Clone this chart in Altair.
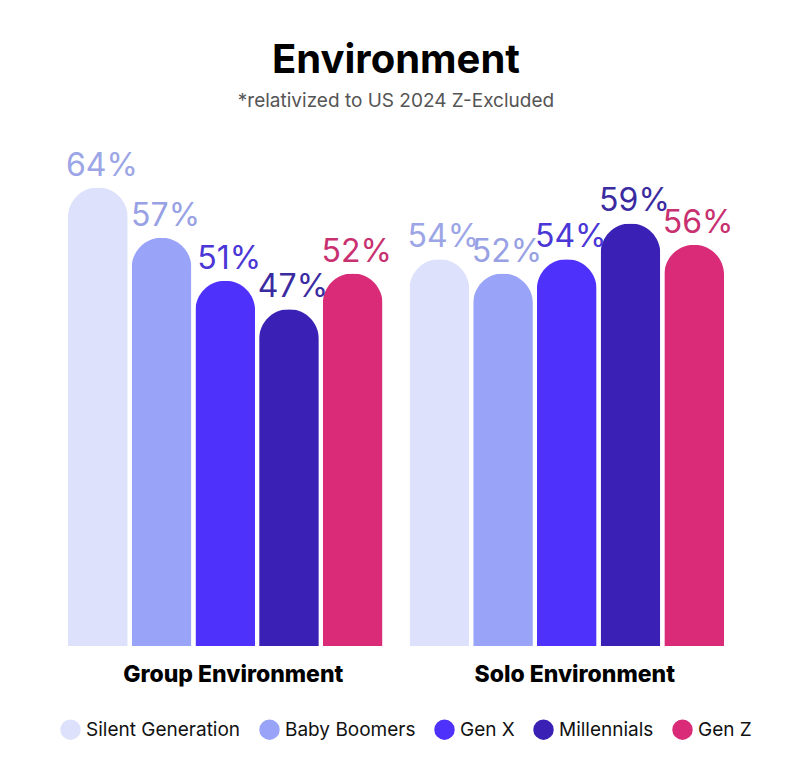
import altair as alt
import pandas as pd

groups = ["Group Environment", "Solo Environment"]
generations = ["Silent Generation", "Baby Boomers", "Gen X", "Millennials", "Gen Z"]
group_values = [64, 57, 51, 47, 52]
solo_values = [54, 52, 54, 59, 56]

bar_colors = ["#dde1fb", "#99a4f8", "#4e31fb", "#3a20b4", "#d92b77"]
label_colors = ["#9ca5e6", "#98a1e4", "#4a37d6", "#3b2ba0", "#c8306f"]

rows = []
for g, vals in zip(groups, [group_values, solo_values]):
    for gen, v in zip(generations, vals):
        rows.append({"group": g, "generation": gen, "value": v, "label": f"{v}%"})
df = pd.DataFrame(rows)

FONT = "Inter"

x_enc = alt.X(
    "group:N",
    sort=groups,
    scale=alt.Scale(paddingInner=0.079, paddingOuter=0),
    axis=alt.Axis(
        title=None,
        labelAngle=0,
        labelFontSize=23,
        labelFontWeight=800,
        labelColor="#000000",
        labelFont=FONT,
        labelLimit=500,
        labelOffset=8,
        ticks=False,
        domain=False,
        grid=False,
        labelPadding=17,
    ),
)
xoff_enc = alt.XOffset(
    "generation:N",
    sort=generations,
    scale=alt.Scale(paddingInner=0.063, paddingOuter=0),
)
y_enc = alt.Y("value:Q", scale=alt.Scale(domain=[0, 70.5], nice=False, zero=True), axis=None)

bars = alt.Chart(df).mark_bar(
    cornerRadiusTopLeft=30, cornerRadiusTopRight=30
).encode(
    x=x_enc,
    xOffset=xoff_enc,
    y=y_enc,
    color=alt.Color(
        "generation:N",
        sort=generations,
        scale=alt.Scale(domain=generations, range=bar_colors),
        legend=alt.Legend(
            title=None,
            orient="none",
            direction="horizontal",
            legendX=-8,
            legendY=578,
            symbolType="circle",
            symbolSize=420,
            symbolStrokeWidth=0,
            labelFontSize=19,
            labelFont=FONT,
            labelColor="#111111",
            labelOffset=5,
            columnPadding=18,
            padding=0,
        ),
    ),
)

labels = alt.Chart(df).mark_text(
    baseline="alphabetic", align="center", dy=-12, dx=4, fontSize=32, font=FONT
).encode(
    x=x_enc,
    xOffset=xoff_enc,
    y=y_enc,
    text="label:N",
    color=alt.Color(
        "generation:N",
        sort=generations,
        scale=alt.Scale(domain=generations, range=label_colors),
        legend=None,
    ),
)

chart = (
    alt.layer(bars, labels)
    .resolve_scale(color="independent")
    .properties(
        width=656,
        height=505,
        padding={"left": 52, "top": 33, "right": 10, "bottom": 10},
        background="#ffffff",
        title=alt.TitleParams(
            text="Environment",
            subtitle="*relativized to US 2024 Z-Excluded",
            fontSize=40,
            fontWeight="bold",
            font=FONT,
            color="#000000",
            subtitleFontSize=19,
            subtitleFont=FONT,
            subtitleColor="#555555",
            subtitlePadding=11,
            anchor="middle",
            offset=30,
        ),
    )
    .configure_view(stroke=None)
)

chart.save("out.html", embed_options={"renderer": "svg", "actions": False})
